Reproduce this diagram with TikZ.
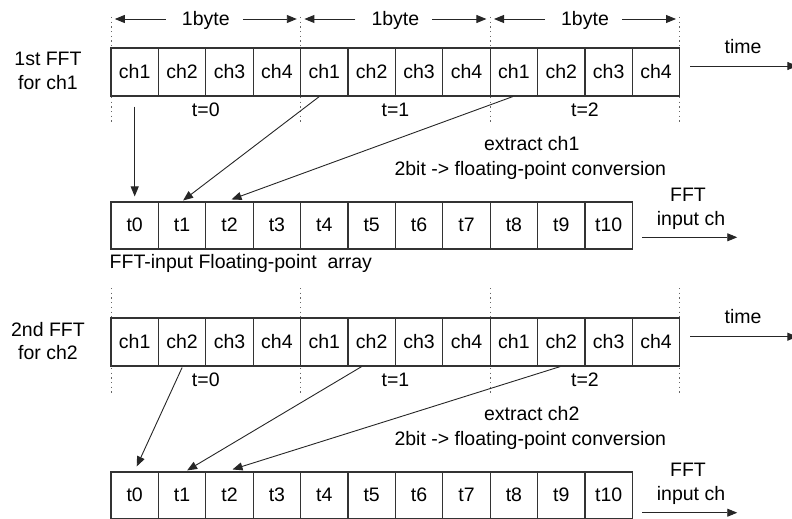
\documentclass[tikz,border=0pt]{standalone}
\usepackage{fontspec}
\setmainfont{Liberation Sans}
\usetikzlibrary{arrows.meta,calc}
\begin{document}
\begin{tikzpicture}[x=1pt,y=-1pt,
  every node/.style={font=\fontsize{19.5}{23}\selectfont, text=black, inner sep=0pt},
  cell/.style={draw=black!80, line width=1.1pt, fill=white, minimum width=47.4pt, minimum height=48pt, text height=12.5pt, text depth=0pt},
  fcell/.style={cell, minimum height=47pt},
  conn/.style={draw=black!85, line width=0.9pt, -{Triangle[length=10pt,width=8pt]}},
  guide/.style={draw=black!60, line width=1pt, dash pattern=on 1.2pt off 3.5pt},
  lbl/.style={anchor=base}]
\useasboundingbox (0,0) rectangle (792,519);
\clip (0,0) rectangle (792,519);
% guides
\foreach \x in {111,300.6,490.2,679.8} {
  \draw[guide] (\x,17) -- (\x,123);
  \draw[guide] (\x,288) -- (\x,394);
}
% byte rows
\foreach \i in {1,...,12} {
  \pgfmathtruncatemacro{\ch}{mod(\i-1,4)+1}
  \pgfmathsetmacro{\cx}{111+47.4*(\i-0.5)}
  \node[cell] (r1c\i) at (\cx,72) {ch\ch};
  \node[cell] (r3c\i) at (\cx,342) {ch\ch};
}
% float rows
\foreach \i in {1,...,11} {
  \pgfmathtruncatemacro{\tj}{\i-1}
  \pgfmathsetmacro{\cx}{111+47.4*(\i-0.5)}
  \node[fcell] (r2c\i) at (\cx,225.5) {t\tj};
  \node[fcell] (r4c\i) at (\cx,495.5) {t\tj};
}
% byte labels and t labels
\foreach \k in {0,1,2} {
  \pgfmathsetmacro{\bx}{205.8+189.6*\k}
  \node[lbl] (by\k) at (\bx,25.5) {1byte};
  \draw[conn] ($(by\k.base)+(-40,-6.5)$) -- ($(by\k.base)+(-91,-6.5)$);
  \draw[conn] ($(by\k.base)+(37,-6.5)$) -- ($(by\k.base)+(91,-6.5)$);
  \node[lbl] (ta\k) at (\bx,116.5) {t=\k};
  \node[lbl] (tb\k) at (\bx,386.5) {t=\k};
}
% left labels
\node[lbl] (l1a) at (48,66) {1st FFT};
\node[lbl] (l1b) at (48,89.5) {for ch1};
\node[lbl] (l2a) at (48,336) {2nd FFT};
\node[lbl] (l2b) at (48,359.5) {for ch2};
% time
\node[lbl] (time1) at (743,53.3) {time};
\node[lbl] (time2) at (743,323.3) {time};
\draw[conn] ($(r1c12.east)+(10,-6)$) -- ++(107,0);
\draw[conn] ($(r3c12.east)+(10,-5.3)$) -- ++(107,0);
% extract texts
\node[lbl] (ex1a) at (531.7,150.7) {extract ch1};
\node[lbl] (ex1b) at (530.3,175) {2bit -> floating-point conversion};
\node[lbl] (ex2a) at (531.7,420.7) {extract ch2};
\node[lbl] (ex2b) at (530.3,445) {2bit -> floating-point conversion};
% FFT input ch
\node[lbl] (f1a) at (688,201) {FFT};
\node[lbl] (f1b) at (691,225) {input ch};
\draw[conn] ($(r2c11.east)+(9.3,11.8)$) -- ++(95,0);
\node[lbl] (f2a) at (688,476.5) {FFT};
\node[lbl] (f2b) at (691,500) {input ch};
\draw[conn] ($(r4c11.east)+(9.3,17.2)$) -- ++(95,0);
\node[anchor=base west] (arr) at (109.5,268.3) {FFT-input Floating-point~ array};
% connectors block 1
\draw[conn] ($(r1c1.south)+(0,10)$) -- ($(r2c1.north)+(0,-5)$);
\draw[conn] ($(r1c5.south)+(-5,0)$) -- ($(r2c2.north)+(1,-1)$);
\draw[conn] ($(r1c9.south)+(-1,0)$) -- ($(r2c3.north)+(2,-2)$);
% connectors block 2
\draw[conn] ($(r3c2.south)+(0,1)$) -- ($(r4c1.north)+(2,-5)$);
\draw[conn] ($(r3c6.south)+(-10,0)$) -- ($(r4c2.north)+(5,-1)$);
\draw[conn] ($(r3c10.south)+(-1,0)$) -- ($(r4c3.north)+(3,-2)$);
\end{tikzpicture}
\end{document}
